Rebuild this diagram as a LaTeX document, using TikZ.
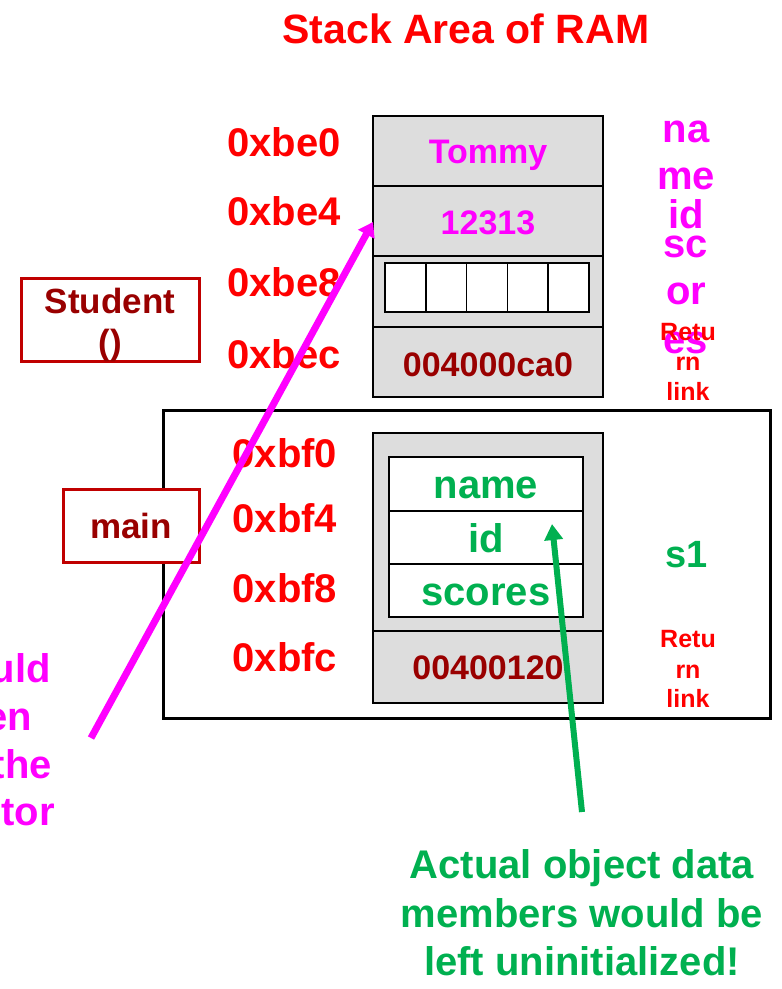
\documentclass[tikz,border=0pt]{standalone}
\usepackage{fontspec}
\setmainfont{Liberation Sans}
\usetikzlibrary{arrows.meta}
\definecolor{addrred}{HTML}{FF0000}
\definecolor{darkred}{HTML}{990000}
\definecolor{boxred}{HTML}{C00000}
\definecolor{mag}{HTML}{FF00FF}
\definecolor{grn}{HTML}{00B050}
\definecolor{cellgray}{HTML}{DDDDDD}
\tikzset{
  txt/.style={inner sep=0pt, anchor=base, font=\bfseries\fontsize{#1}{#1}\selectfont, align=center},
  addr/.style={txt=40, text=addrred},
  cell/.style={draw=black, line width=1.5pt, fill=cellgray},
  wcell/.style={draw=black, line width=1.5pt, fill=white},
  fnbox/.style={draw=boxred, line width=3pt, fill=white},
  frame/.style={draw=black, line width=3pt},
}
\begin{document}
\begin{tikzpicture}[x=1pt,y=-1pt]
\useasboundingbox (0,0) rectangle (782,989);

% title
\node[txt=41, text=addrred] (title) at (466,43) {Stack Area of RAM};

% main() frame
\draw[frame] (163,410) rectangle (770,718);

% Student() stack cells
\draw[cell] (373,116) rectangle (603,186);
\draw[cell] (373,186) rectangle (603,256);
\draw[cell] (373,256) rectangle (603,327);
\draw[cell] (373,327) rectangle (603,397);
\foreach \i in {0,...,4}
  \draw[wcell] ({385+\i*40.8},263) rectangle ({385+(\i+1)*40.8},312);
\node[txt=34, text=mag] (tommy) at (488,163) {Tommy};
\node[txt=34, text=mag] (idval) at (488,234) {12313};
\node[txt=34, text=darkred] (ret1) at (488,376) {004000ca0};

% main stack cells
\draw[cell] (373,433) rectangle (603,631);
\draw[cell] (373,631) rectangle (603,703);
\node[wcell, minimum width=194pt, minimum height=54pt, inner sep=0pt] (fname) at (486,484) {};
\node[wcell, minimum width=194pt, minimum height=53pt, inner sep=0pt] (fid) at (486,537.5) {};
\node[wcell, minimum width=194pt, minimum height=53pt, inner sep=0pt] (fscores) at (486,590.5) {};
\node[txt=40, text=grn] at (486,498) {name};
\node[txt=40, text=grn] at (486,552) {id};
\node[txt=40, text=grn] at (486,605) {scores};
\node[txt=34, text=darkred] (ret2) at (488,679) {00400120};

% function boxes
\draw[fnbox] (21,278) rectangle (199,361);
\node[txt=35, text=darkred] (student) at (110,313) {Student};
\node[txt=35, text=darkred] at (110,354) {()};
\draw[fnbox] (63,489) rectangle (199,562);
\node[txt=35, text=darkred] (main) at (131,538) {main};

% addresses
\node[addr] at (284,156) {0xbe0};
\node[addr] at (284,225) {0xbe4};
\node[addr] at (284,296) {0xbe8};
\node[addr] at (284,368) {0xbec};
\node[addr] at (285,467) {0xbf0};
\node[addr] at (285,532) {0xbf4};
\node[addr] at (285,602) {0xbf8};
\node[addr] at (285,671) {0xbfc};

% right-hand labels
\node[txt=40, text=mag] at (686,142) {na};
\node[txt=40, text=mag] at (686,189) {me};
\node[txt=40, text=mag] at (686,228) {id};
\node[txt=40, text=mag] at (686,257) {sc};
\node[txt=40, text=mag] at (686,304) {or};
\node[txt=40, text=mag] at (686,353) {es};
\node[txt=25, text=addrred] at (688,340) {Retu};
\node[txt=25, text=addrred] at (688,370) {rn};
\node[txt=25, text=addrred] at (688,400) {link};
\node[txt=38, text=grn] (s1) at (687,567) {s1};
\node[txt=25, text=addrred] at (688,647) {Retu};
\node[txt=25, text=addrred] at (688,678) {rn};
\node[txt=25, text=addrred] at (688,707) {link};

% left note
\node[txt=40, text=mag, anchor=base east] at (51,682) {uld};
\node[txt=40, text=mag, anchor=base east] at (32,730) {en};
\node[txt=40, text=mag, anchor=base east] at (52,778) {the};
\node[txt=40, text=mag, anchor=base east] at (55,825) {tor};

% bottom note
\node[txt=40, text=grn] (note) at (582,878) {Actual object data};
\node[txt=40, text=grn] at (582,927) {members would be};
\node[txt=40, text=grn] at (582,975) {left uninitialized!};

% arrows
\coordinate (magtail) at (91,738);
\coordinate (magtip) at (373,222);
\draw[mag, line width=7pt, -{Triangle[length=14pt,width=18pt]}] (magtail) -- (magtip);
\coordinate (grntail) at (582,812);
\coordinate (grntip) at (552,524);
\draw[grn, line width=6pt, -{Triangle[length=16pt,width=18pt]}] (grntail) -- (grntip);
\end{tikzpicture}
\end{document}
